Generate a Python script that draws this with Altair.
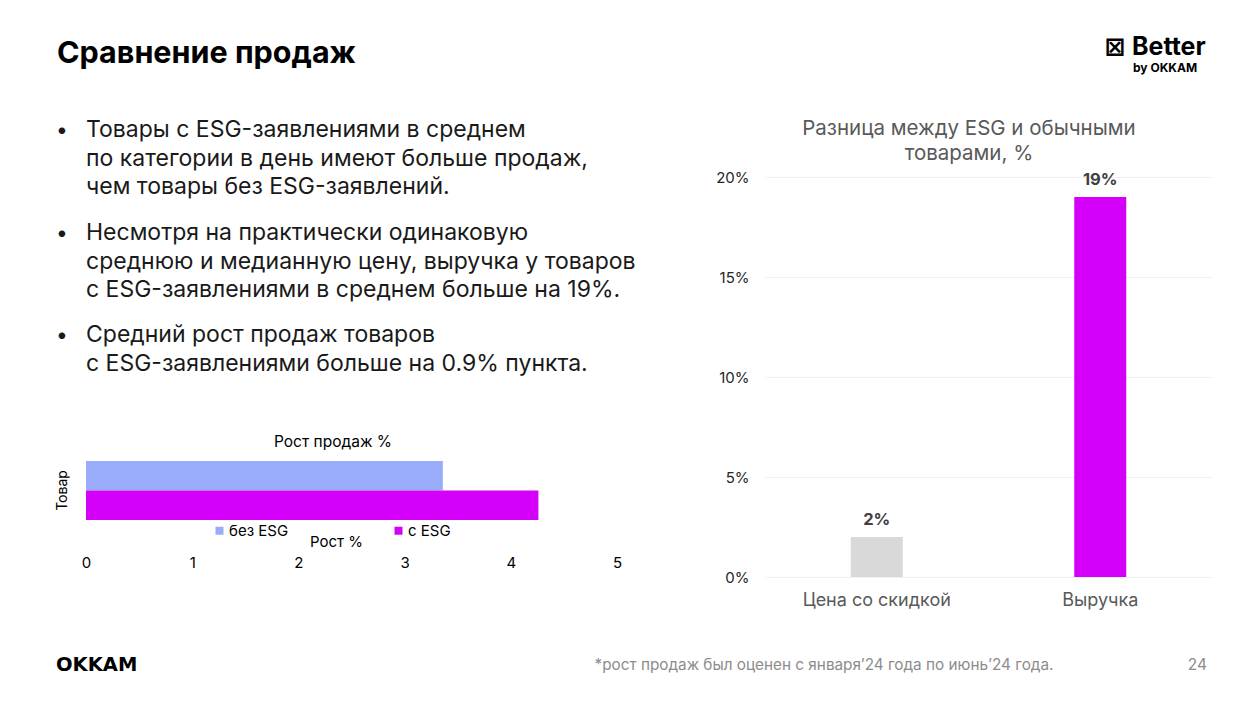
import altair as alt
import pandas as pd

FONT = "Inter"

# ---------------- data ----------------
PAGE_TITLE = "Сравнение продаж"
BULLETS = [
    ["Товары с ESG-заявлениями в среднем",
     "по категории в день имеют больше продаж,",
     "чем товары без ESG-заявлений."],
    ["Несмотря на практически одинаковую",
     "среднюю и медианную цену, выручка у товаров",
     "с ESG-заявлениями в среднем больше на 19%."],
    ["Средний рост продаж товаров",
     "с ESG-заявлениями больше на 0.9% пункта."],
]

GROWTH_TITLE = "Рост продаж %"
GROWTH_SERIES = ["без ESG", "с ESG"]
GROWTH_VALUES = [3.36, 4.26]
GROWTH_TICKS = [0, 1, 2, 3, 4, 5]

DIFF_TITLE = ["Разница между ESG и обычными", "товарами, %"]
DIFF_CATEGORIES = ["Цена со скидкой", "Выручка"]
DIFF_VALUES = [2, 19]
DIFF_LABELS = ["2%", "19%"]
DIFF_TICKS = [0, 5, 10, 15, 20]

FOOTNOTE = "*рост продаж был оценен с января’24 года по июнь’24 года."
PAGE_NUMBER = "24"

BLUE = "#98acfa"
MAGENTA = "#d500f9"
GREY_BAR = "#d9d9d9"

OX = 86  # canvas x of the left panel origin


def note(text, x, y, size, color="#000000", weight="normal", font=FONT,
         align="left", baseline="alphabetic", line_height=None):
    props = dict(text=text, fontSize=size, color=color, fontWeight=weight,
                 font=font, align=align, baseline=baseline)
    if line_height:
        props["lineHeight"] = line_height
    return alt.Chart(alt.Data(values=[{}])).mark_text(**props).encode(
        x=alt.value(x), y=alt.value(y))


# background (defines the full canvas bounds)
background = alt.Chart(alt.Data(values=[{}])).mark_rect(color="white").encode(
    x=alt.value(-OX), x2=alt.value(1243 - OX), y=alt.value(0), y2=alt.value(708))

annotations = [
    note(PAGE_TITLE, 57 - OX, 63, 30.5, weight="bold"),
    note("⊠", 1115 - OX, 47, 25, weight="bold", font="DejaVu Sans",
         align="center", baseline="middle"),
    note("Better", 1132 - OX, 55, 25, weight="bold"),
    note("by OKKAM", 1133 - OX, 72, 12, weight="bold"),
    note("OKKAM", 56 - OX, 665, 19.5, weight="bold", font="DejaVu Sans",
         baseline="middle"),
    note(FOOTNOTE, 824 - OX, 665, 15.3, color="#8c8c8c", align="center",
         baseline="middle"),
    note(PAGE_NUMBER, 1207 - OX, 665, 15.5, color="#8c8c8c", align="right",
         baseline="middle"),
    note(GROWTH_TITLE, 333 - OX, 442, 15.5, baseline="middle", align="center"),
]
for lines, base_y in zip(BULLETS, [137, 240, 342]):
    annotations.append(note("•", 62 - OX, base_y, 21, color="#1a1a1a", align="center"))
    annotations.append(note(lines, 0, base_y, 23, color="#1a1a1a", line_height=28.5))

# ---------------- left: growth bar chart ----------------
growth_df = pd.DataFrame({"series": GROWTH_SERIES, "value": GROWTH_VALUES})
growth_bars = alt.Chart(growth_df).mark_bar().encode(
    x=alt.X("value:Q",
            scale=alt.Scale(domain=[0, 5], nice=False),
            axis=alt.Axis(values=GROWTH_TICKS, format="d", labelFlush=False,
                          ticks=False, domain=False, grid=False, zindex=2,
                          labelPadding=10, labelFontSize=15, labelColor="#000000",
                          labelFont=FONT, title="Рост %", titleFontSize=15,
                          titleFontWeight="normal", titleColor="#000000",
                          titleFont=FONT, titleX=250, titleY=-4,
                          titleBaseline="middle")),
    y=alt.Y("series:N", sort=GROWTH_SERIES,
            scale=alt.Scale(range=[461, 520], paddingInner=0, paddingOuter=0),
            axis=alt.Axis(labels=False, ticks=False, domain=False, grid=False,
                          zindex=2,
                          title="Товар", titleFontSize=14, titleFontWeight="normal",
                          titleColor="#000000", titleFont=FONT, titleX=-24,
                          titleY=490, titleAngle=270, titleBaseline="middle",
                          titleAlign="center")),
    color=alt.Color("series:N", sort=GROWTH_SERIES,
                    scale=alt.Scale(domain=GROWTH_SERIES, range=[BLUE, MAGENTA]),
                    legend=alt.Legend(orient="none", legendX=126, legendY=523,
                                      direction="horizontal", title=None,
                                      symbolType="square", symbolSize=64,
                                      symbolStrokeWidth=0, labelFontSize=15,
                                      labelFont=FONT, labelColor="#000000",
                                      labelOffset=2, columnPadding=102,
                                      padding=0)),
)

left_panel = alt.layer(background, *annotations, growth_bars).properties(
    width=531, height=545)

# ---------------- right: difference bar chart ----------------
diff_df = pd.DataFrame({"category": DIFF_CATEGORIES, "value": DIFF_VALUES,
                        "label": DIFF_LABELS})
diff_base = alt.Chart(diff_df).encode(
    x=alt.X("category:N", sort=DIFF_CATEGORIES,
            scale=alt.Scale(paddingInner=0, paddingOuter=0),
            axis=alt.Axis(labelAngle=0, ticks=False, domain=False, grid=False,
                          labelPadding=14, labelFontSize=18, labelColor="#595959",
                          labelFont=FONT, title=None)),
    y=alt.Y("value:Q",
            scale=alt.Scale(domain=[0, 20], range=[577, 177], nice=False),
            axis=alt.Axis(values=DIFF_TICKS, labelExpr="datum.value + '%'",
                          ticks=False, domain=False, gridColor="#efeff7",
                          labelPadding=16, labelFontSize=15, labelColor="#262626",
                          labelFont=FONT, title=None)),
)
diff_bars = diff_base.mark_bar(size=52).encode(
    color=alt.Color("category:N",
                    scale=alt.Scale(domain=DIFF_CATEGORIES, range=[GREY_BAR, MAGENTA]),
                    legend=None))
diff_text = diff_base.mark_text(baseline="middle", dy=-17, fontSize=16.5,
                                fontWeight="bold", color="#404040",
                                font=FONT).encode(text="label:N")
diff_title = note(DIFF_TITLE, 969 - 765, 135, 20.5, color="#595959",
                  align="center", line_height=25)

right_panel = alt.layer(diff_bars, diff_text, diff_title).properties(
    width=447, height=577)

chart = alt.hconcat(left_panel, right_panel, spacing=148, bounds="flush",
                    padding=0).resolve_scale(
    color="independent").resolve_legend(color="independent").configure_view(stroke=None)

chart.save("out.html", embed_options={"renderer": "svg", "actions": False})
